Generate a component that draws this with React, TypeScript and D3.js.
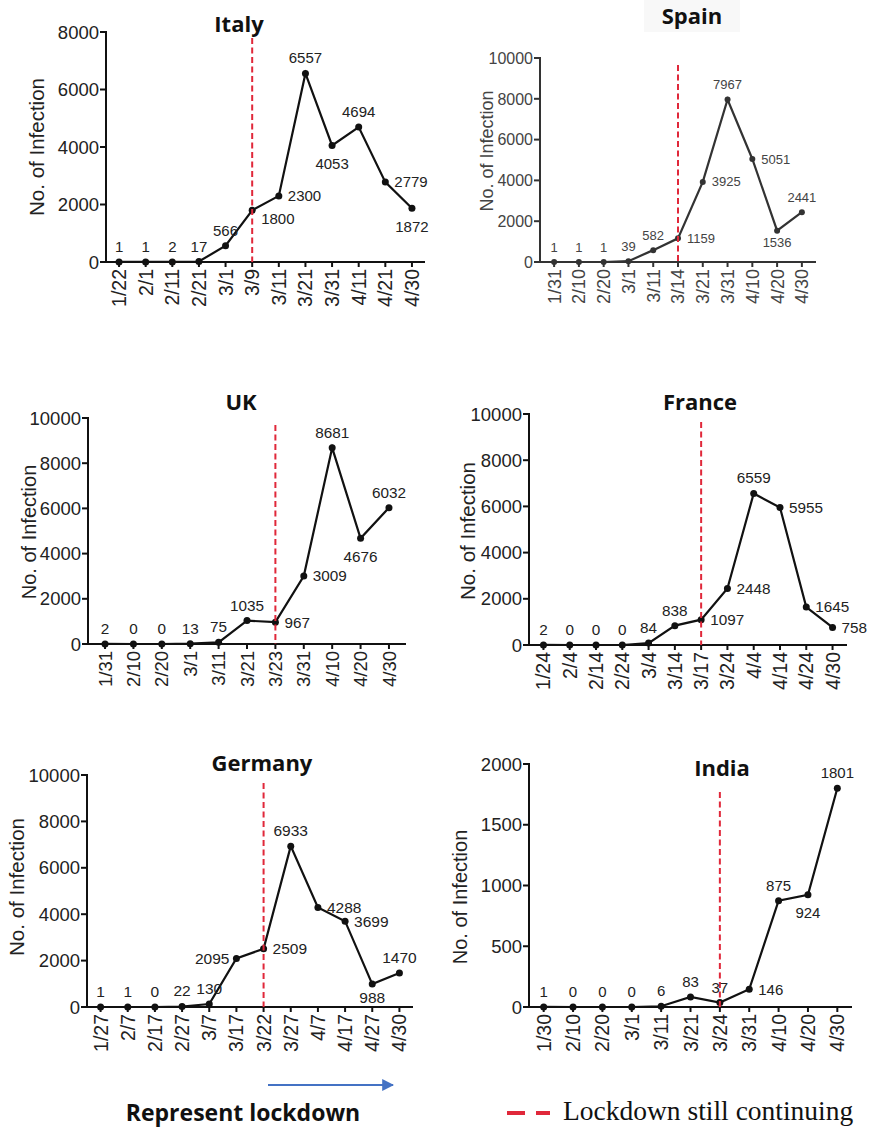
import React from 'react';
import * as d3 from 'd3';

// ---------- DATA ----------
const italyDates = ['1/22', '2/1', '2/11', '2/21', '3/1', '3/9', '3/11', '3/21', '3/31', '4/11', '4/21', '4/30'];
const italyValues = [1, 1, 2, 17, 566, 1800, 2300, 6557, 4053, 4694, 2779, 1872];
const italyTicks = [0, 2000, 4000, 6000, 8000];

const spainDates = ['1/31', '2/10', '2/20', '3/1', '3/11', '3/14', '3/21', '3/31', '4/10', '4/20', '4/30'];
const spainValues = [1, 1, 1, 39, 582, 1159, 3925, 7967, 5051, 1536, 2441];
const spainTicks = [0, 2000, 4000, 6000, 8000, 10000];

const ukDates = ['1/31', '2/10', '2/20', '3/1', '3/11', '3/21', '3/23', '3/31', '4/10', '4/20', '4/30'];
const ukValues = [2, 0, 0, 13, 75, 1035, 967, 3009, 8681, 4676, 6032];
const ukTicks = [0, 2000, 4000, 6000, 8000, 10000];

const franceDates = ['1/24', '2/4', '2/14', '2/24', '3/4', '3/14', '3/17', '3/24', '4/4', '4/14', '4/24', '4/30'];
const franceValues = [2, 0, 0, 0, 84, 838, 1097, 2448, 6559, 5955, 1645, 758];
const franceTicks = [0, 2000, 4000, 6000, 8000, 10000];

const germanyDates = ['1/27', '2/7', '2/17', '2/27', '3/7', '3/17', '3/22', '3/27', '4/7', '4/17', '4/27', '4/30'];
const germanyValues = [1, 1, 0, 22, 130, 2095, 2509, 6933, 4288, 3699, 988, 1470];
const germanyTicks = [0, 2000, 4000, 6000, 8000, 10000];

const indiaDates = ['1/30', '2/10', '2/20', '3/1', '3/11', '3/21', '3/24', '3/31', '4/10', '4/20', '4/30'];
const indiaValues = [1, 0, 0, 0, 6, 83, 37, 146, 875, 924, 1801];
const indiaTicks = [0, 500, 1000, 1500, 2000];

const lockdownDates = { Italy: '3/9', Spain: '3/14', UK: '3/23', France: '3/17', Germany: '3/22', India: '3/24' };

// ---------- LABEL PLACEMENT (style, not data) ----------
type Pos = 'a' | 'b' | 'bs' | 'r' | 'l' | 'br';
const italyLabelPos: Pos[] = ['a', 'a', 'a', 'a', 'a', 'br', 'r', 'a', 'b', 'a', 'r', 'b'];
const spainLabelPos: Pos[] = ['a', 'a', 'a', 'a', 'a', 'r', 'r', 'a', 'r', 'bs', 'a'];
const ukLabelPos: Pos[] = ['a', 'a', 'a', 'a', 'a', 'a', 'r', 'r', 'a', 'b', 'a'];
const franceLabelPos: Pos[] = ['a', 'a', 'a', 'a', 'a', 'a', 'r', 'r', 'a', 'r', 'r', 'r'];
const germanyLabelPos: Pos[] = ['a', 'a', 'a', 'a', 'a', 'l', 'r', 'a', 'r', 'r', 'bs', 'a'];
const indiaLabelPos: Pos[] = ['a', 'a', 'a', 'a', 'a', 'a', 'a', 'r', 'a', 'b', 'a'];

interface PanelCfg {
  title: string;
  dates: string[];
  values: number[];
  ticks: number[];
  labelPos: Pos[];
  lockDate: string;
  left: number;
  right: number;
  top: number;
  bottom: number;
  pad: number;
  lockTop: number;
  titleX: number;
  titleY: number;
  yLabelX: number;
  yLabelY: number;
  yLabelText: string;
  tickFont: number;
  xFont: number;
  yLabelFont: number;
  dataFont: number;
  color: string;
  textColor: string;
  dotR: number;
  titleBg?: boolean;
}

const SANS = "'Liberation Sans', Arial, Helvetica, sans-serif";
const TITLE = "'Open Sans', 'Noto Sans', sans-serif";
const RED = '#e0283a';

const panels: PanelCfg[] = [
  {
    title: 'Italy', dates: italyDates, values: italyValues, ticks: italyTicks, labelPos: italyLabelPos,
    lockDate: lockdownDates.Italy, left: 106, right: 425, top: 32, bottom: 262, pad: 0.49, lockTop: 38,
    titleX: 239, titleY: 32, yLabelX: 37, yLabelY: 147, yLabelText: 'No. of Infection',
    tickFont: 18.5, xFont: 19.5, yLabelFont: 20.5, dataFont: 15, color: '#111', textColor: '#222', dotR: 3.5,
  },
  {
    title: 'Spain', dates: spainDates, values: spainValues, ticks: spainTicks, labelPos: spainLabelPos,
    lockDate: lockdownDates.Spain, left: 540, right: 816, top: 58, bottom: 262, pad: 0.57, lockTop: 65,
    titleX: 692, titleY: 24, yLabelX: 487, yLabelY: 151, yLabelText: 'No. of Infection',
    tickFont: 16, xFont: 18, yLabelFont: 18, dataFont: 13, color: '#333', textColor: '#444', dotR: 3, titleBg: true,
  },
  {
    title: 'UK', dates: ukDates, values: ukValues, ticks: ukTicks, labelPos: ukLabelPos,
    lockDate: lockdownDates.UK, left: 88, right: 406, top: 418, bottom: 644, pad: 0.6, lockTop: 425,
    titleX: 241, titleY: 410, yLabelX: 29, yLabelY: 532, yLabelText: 'No. of Infection',
    tickFont: 18.5, xFont: 18.5, yLabelFont: 20, dataFont: 15.3, color: '#111', textColor: '#222', dotR: 3.5,
  },
  {
    title: 'France', dates: franceDates, values: franceValues, ticks: franceTicks, labelPos: franceLabelPos,
    lockDate: lockdownDates.France, left: 529, right: 847, top: 414, bottom: 645, pad: 0.55, lockTop: 422,
    titleX: 700, titleY: 410, yLabelX: 468, yLabelY: 531, yLabelText: 'No. of Infection',
    tickFont: 18.5, xFont: 19.5, yLabelFont: 20.5, dataFont: 15.3, color: '#111', textColor: '#222', dotR: 3.5,
  },
  {
    title: 'Germany', dates: germanyDates, values: germanyValues, ticks: germanyTicks, labelPos: germanyLabelPos,
    lockDate: lockdownDates.Germany, left: 87, right: 413, top: 775, bottom: 1007, pad: 0.5, lockTop: 783,
    titleX: 262, titleY: 771, yLabelX: 17, yLabelY: 887, yLabelText: 'No. of Infection',
    tickFont: 18.5, xFont: 19.5, yLabelFont: 20.5, dataFont: 15.5, color: '#111', textColor: '#222', dotR: 3.5,
  },
  {
    title: 'India', dates: indiaDates, values: indiaValues, ticks: indiaTicks, labelPos: indiaLabelPos,
    lockDate: lockdownDates.India, left: 529, right: 852, top: 764, bottom: 1007, pad: 0.5, lockTop: 792,
    titleX: 722, titleY: 776, yLabelX: 460, yLabelY: 897, yLabelText: 'No. of Infection',
    tickFont: 18.5, xFont: 19.5, yLabelFont: 20, dataFont: 15, color: '#111', textColor: '#222', dotR: 3.5,
  },
];

function Panel({ cfg }: { cfg: PanelCfg }) {
  const x = d3.scalePoint<string>().domain(cfg.dates).range([cfg.left, cfg.right]).padding(cfg.pad);
  const y = d3.scaleLinear().domain([0, cfg.ticks[cfg.ticks.length - 1]]).range([cfg.bottom, cfg.top]);
  const line = d3
    .line<number>()
    .x((_, i) => x(cfg.dates[i]) as number)
    .y((d) => y(d));
  const lx = x(cfg.lockDate) as number;

  const labelProps = (i: number) => {
    const px = x(cfg.dates[i]) as number;
    const py = y(cfg.values[i]);
    const p = cfg.labelPos[i];
    const f = cfg.dataFont;
    switch (p) {
      case 'b':
        return { x: px, y: py + f * 1.05 + 8, anchor: 'middle' };
      case 'bs':
        return { x: px, y: py + f * 0.75 + 7, anchor: 'middle' };
      case 'r':
        return { x: px + 9, y: py + f * 0.35, anchor: 'start' };
      case 'l':
        return { x: px - 7, y: py + f * 0.35, anchor: 'end' };
      case 'br':
        return { x: px + 9, y: py + f * 0.35 + 8, anchor: 'start' };
      default:
        return { x: px, y: py - 10, anchor: 'middle' };
    }
  };

  return (
    <g>
      {cfg.titleBg && (
        <rect x={cfg.titleX - 48} y={0} width={96} height={32} fill="#f8f8f8" />
      )}
      <text
        x={cfg.titleX}
        y={cfg.titleY}
        textAnchor="middle"
        fontFamily={TITLE}
        fontWeight={700}
        fontSize={22}
        fill="#111"
      >
        {cfg.title}
      </text>
      {/* y axis */}
      <line x1={cfg.left} x2={cfg.left} y1={cfg.top - 1} y2={cfg.bottom} stroke={cfg.color} strokeWidth={2} />
      {cfg.ticks.map((t) => (
        <g key={t}>
          <line x1={cfg.left - 6} x2={cfg.left} y1={y(t)} y2={y(t)} stroke={cfg.color} strokeWidth={2} />
          <text
            x={cfg.left - 7}
            y={y(t)}
            dy="0.36em"
            textAnchor="end"
            fontFamily={SANS}
            fontSize={cfg.tickFont}
            fill={cfg.textColor}
          >
            {t}
          </text>
        </g>
      ))}
      <text
        transform={`translate(${cfg.yLabelX},${cfg.yLabelY}) rotate(-90)`}
        textAnchor="middle"
        dy="0.35em"
        fontFamily={SANS}
        fontSize={cfg.yLabelFont}
        fill={cfg.textColor}
      >
        {cfg.yLabelText}
      </text>
      {/* x axis */}
      <line x1={cfg.left - 1} x2={cfg.right} y1={cfg.bottom} y2={cfg.bottom} stroke={cfg.color} strokeWidth={2} />
      {cfg.dates.map((d) => (
        <g key={d}>
          <line x1={x(d)} x2={x(d)} y1={cfg.bottom} y2={cfg.bottom + 5} stroke={cfg.color} strokeWidth={2} />
          <text
            transform={`translate(${x(d)},${cfg.bottom + 7}) rotate(-90)`}
            textAnchor="end"
            dy="0.36em"
            fontFamily={SANS}
            fontSize={cfg.xFont}
            fill={cfg.textColor}
          >
            {d}
          </text>
        </g>
      ))}
      {/* line + points */}
      <path d={line(cfg.values) || ''} fill="none" stroke={cfg.color} strokeWidth={2.2} />
      {cfg.values.map((v, i) => (
        <circle key={i} cx={x(cfg.dates[i])} cy={y(v)} r={cfg.dotR} fill={cfg.color} />
      ))}
      {/* lockdown line */}
      <line
        x1={lx}
        x2={lx}
        y1={cfg.lockTop}
        y2={cfg.bottom}
        stroke={RED}
        strokeWidth={2}
        strokeDasharray="6,3.5"
      />
      {/* data labels */}
      {cfg.values.map((v, i) => {
        const lp = labelProps(i);
        return (
          <text
            key={`l${i}`}
            x={lp.x}
            y={lp.y}
            textAnchor={lp.anchor as any}
            fontFamily={SANS}
            fontSize={cfg.dataFont}
            fill={cfg.textColor}
          >
            {v}
          </text>
        );
      })}
    </g>
  );
}

export default function App() {
  return (
    <svg
      width={873}
      height={1130}
      viewBox="0 0 873 1130"
      style={{ position: 'absolute', left: 0, top: 0, background: '#fff' }}
    >
      <rect x={0} y={0} width={873} height={1130} fill="#fff" />
      <defs>
        <marker id="arrowHead" viewBox="0 0 10 10" refX={9} refY={5} markerWidth={6} markerHeight={6} orient="auto">
          <path d="M0,0 L10,5 L0,10 z" fill="#4472c4" />
        </marker>
      </defs>
      {panels.map((p) => (
        <Panel key={p.title} cfg={p} />
      ))}
      {/* Represent lockdown arrow */}
      <line x1={268} x2={393} y1={1085} y2={1085} stroke="#4472c4" strokeWidth={2} markerEnd="url(#arrowHead)" />
      <text x={243} y={1121} textAnchor="middle" fontFamily={TITLE} fontWeight={700} fontSize={23} fill="#111">
        Represent lockdown
      </text>
      {/* Legend */}
      <line x1={507} x2={550} y1={1113} y2={1113} stroke={RED} strokeWidth={4} strokeDasharray="18,11" />
      <text x={563} y={1120} fontFamily="'Liberation Serif', 'Times New Roman', serif" fontSize={27.5} fill="#111">
        Lockdown still continuing
      </text>
    </svg>
  );
}
